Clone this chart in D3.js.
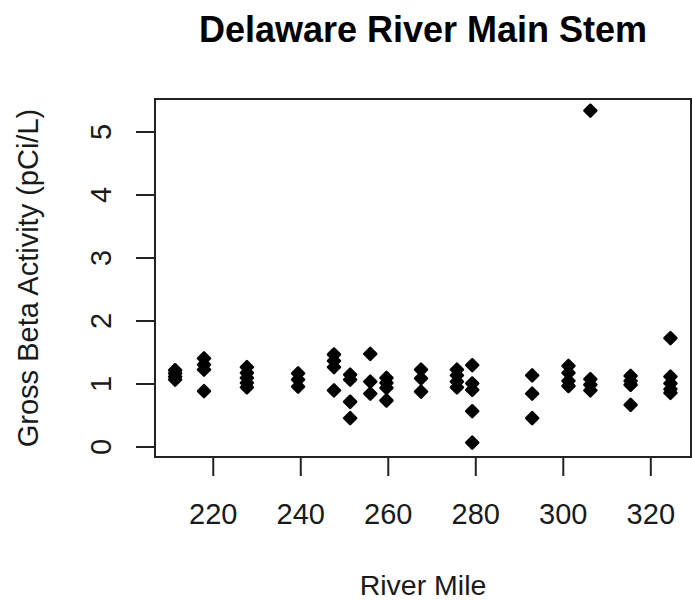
<!DOCTYPE html>
<html>
<head>
<meta charset="utf-8">
<script src="https://cdn.jsdelivr.net/npm/d3@7/dist/d3.min.js"></script>
<style>
  html, body { margin: 0; padding: 0; background: #fff; }
  svg text { font-family: "Liberation Sans", Arial, sans-serif; fill: #1a1a1a; }
</style>
</head>
<body>
<svg id="chart" width="692" height="600"></svg>
<script>
// Sampling sites along the main stem (river mile)
const riverMiles = [211.4, 218.0, 227.8, 239.5, 247.7, 251.4, 256.0, 259.7,
                    267.6, 275.8, 279.3, 293.0, 301.3, 306.3, 315.5, 324.6];

// Gross beta activity measurements at each site (pCi/L)
const betaBySite = [
  [1.21, 1.16, 1.11, 1.06],
  [1.40, 1.30, 1.22, 0.88],
  [1.26, 1.17, 1.09, 1.01, 0.94],
  [1.16, 1.06, 0.95],
  [1.46, 1.36, 1.26, 0.89],
  [1.14, 1.06, 0.71, 0.45],
  [1.47, 1.03, 0.84],
  [1.09, 1.01, 0.93, 0.73],
  [1.22, 1.08, 0.87],
  [1.22, 1.13, 1.03, 0.94],
  [1.29, 1.00, 0.90, 0.56, 0.06],
  [1.13, 0.84, 0.45],
  [1.28, 1.17, 1.04, 0.96],
  [5.33, 1.07, 0.98, 0.89],
  [1.12, 1.04, 0.98, 0.66],
  [1.72, 1.11, 1.00, 0.91, 0.85]
];

const xTicks = [220, 240, 260, 280, 300, 320];
const yTicks = [0, 1, 2, 3, 4, 5];

const points = [];
riverMiles.forEach((m, i) => betaBySite[i].forEach(v => points.push({ mile: m, beta: v })));

const svg = d3.select("#chart");
const box = { left: 155, right: 691, top: 99, bottom: 457 };

const x = d3.scaleLinear().domain([206.8, 329.3]).range([box.left, box.right]);
const y = d3.scaleLinear().domain([-0.167, 5.516]).range([box.bottom, box.top]);

// Title
svg.append("text")
  .attr("x", (box.left + box.right) / 2)
  .attr("y", 42)
  .attr("text-anchor", "middle")
  .style("font-size", "36px")
  .style("font-weight", "bold")
  .style("fill", "#000")
  .text("Delaware River Main Stem");

// Bottom axis
const xAxis = svg.append("g")
  .attr("transform", `translate(0,${box.bottom})`)
  .call(d3.axisBottom(x).tickValues(xTicks).tickSize(19).tickPadding(27).tickFormat(d3.format("d")));
xAxis.select(".domain").remove();
xAxis.selectAll(".tick line").attr("stroke", "#222").attr("stroke-width", 2);
xAxis.selectAll(".tick text").style("font-size", "29px").attr("fill", "#1a1a1a");

// Left axis (rotated labels)
const yAxis = svg.append("g")
  .attr("transform", `translate(${box.left},0)`)
  .call(d3.axisLeft(y).tickValues(yTicks).tickSize(19).tickFormat(d3.format("d")));
yAxis.select(".domain").remove();
yAxis.selectAll(".tick line").attr("stroke", "#222").attr("stroke-width", 2);
yAxis.selectAll(".tick text")
  .style("font-size", "29px")
  .attr("fill", "#1a1a1a")
  .attr("x", null).attr("dy", null)
  .attr("text-anchor", "middle")
  .attr("transform", "translate(-44,0) rotate(-90)");

// Plot frame
svg.append("rect")
  .attr("x", box.left).attr("y", box.top)
  .attr("width", box.right - box.left).attr("height", box.bottom - box.top)
  .attr("fill", "none").attr("stroke", "#222").attr("stroke-width", 2);

// Axis titles
svg.append("text")
  .attr("x", (box.left + box.right) / 2)
  .attr("y", 595)
  .attr("text-anchor", "middle")
  .style("font-size", "28.5px")
  .text("River Mile");

svg.append("text")
  .attr("transform", `translate(38,${(box.top + box.bottom) / 2}) rotate(-90)`)
  .attr("text-anchor", "middle")
  .style("font-size", "29px")
  .text("Gross Beta Activity (pCi/L)");

// Filled diamond markers with softened corners
const diamond = "M0,-6L6,0L0,6L-6,0Z";
svg.append("g").selectAll("path")
  .data(points)
  .join("path")
  .attr("d", diamond)
  .attr("transform", d => `translate(${x(d.mile)},${y(d.beta)})`)
  .attr("fill", "#000")
  .attr("stroke", "#000")
  .attr("stroke-width", 2.5)
  .attr("stroke-linejoin", "round");
</script>
</body>
</html>
